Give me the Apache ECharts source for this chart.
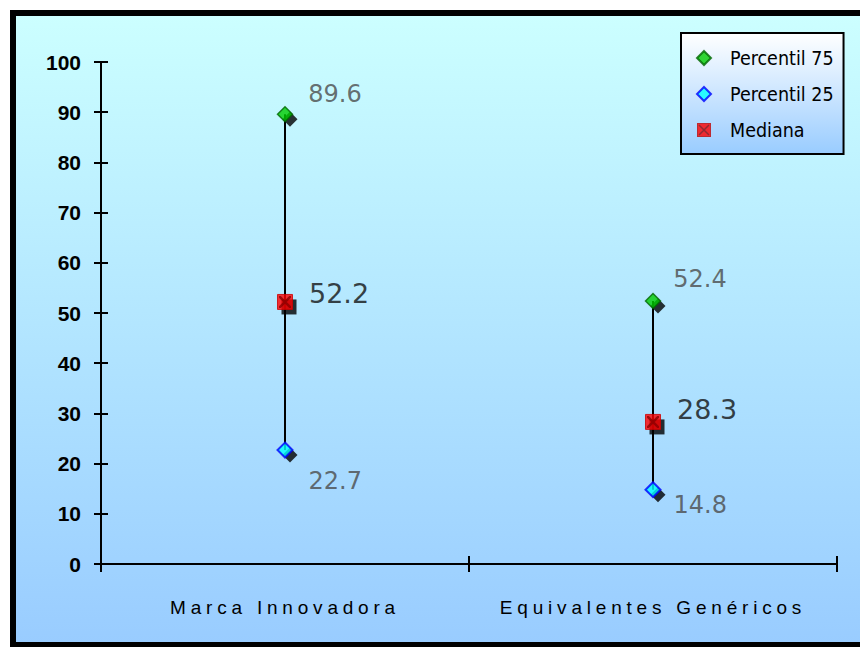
<!DOCTYPE html>
<html>
<head>
<meta charset="utf-8">
<script src="https://cdn.jsdelivr.net/npm/echarts@6/dist/echarts.min.js"></script>
<style>
  html, body { margin: 0; padding: 0; background: #fff; }
  #chart { width: 860px; height: 647px; }
  /* spaced-out category captions */
  #chart text[style*="Liberation Sans"], #chart text[font-family*="Liberation Sans"] { letter-spacing: 4.8px; }
</style>
</head>
<body>
<div id="chart"></div>
<script>
// Data
const categories = ['Marca Innovadora', 'Equivalentes Genéricos'];
const p75 = [89.6, 52.4];
const p25 = [22.7, 14.8];
const median = [52.2, 28.3];
const yTicks = { min: 0, max: 100, step: 10 };

// Label placement (pixel offsets from the marker)
const p75Offsets = [[15, -20], [12, -22]];
const p25Offsets = [[15, 31], [12, 15]];
const medOffsets = [[16, -8], [16, -12]];

const chart = echarts.init(document.getElementById('chart'), null, { renderer: 'svg' });

const valueFont = "'DejaVu Sans', sans-serif";
const crossPath = 'path://M0,0L3,0L10,7L17,0L20,0L20,3L13,10L20,17L20,20L17,20L10,13L3,20L0,20L0,17L7,10L0,3Z';
const medianIconSvg = "<svg xmlns='http://www.w3.org/2000/svg' width='28' height='28'>" +
  "<rect x='1' y='1' width='26' height='26' fill='#ff0000' stroke='#c00000' stroke-width='2'/>" +
  "<path d='M4 4L24 24M24 4L4 24' stroke='#8b0000' stroke-width='3'/></svg>";
const medianIcon = 'image://data:image/svg+xml;charset=utf-8,' + encodeURIComponent(medianIconSvg);

function pts(values, offsets) {
  return values.map((v, i) => ({
    value: [i, v],
    label: offsets ? { offset: offsets[i] } : undefined
  }));
}

const rangeData = categories.map((c, i) => [i, p25[i], p75[i]]);

const option = {
  animation: false,
  graphic: [{
    type: 'rect',
    z: -100,
    silent: true,
    shape: { x: 13, y: 13, width: 900, height: 632 },
    style: {
      fill: new echarts.graphic.LinearGradient(0, 0, 0, 1, [
        { offset: 0, color: '#CCFFFF' },
        { offset: 1, color: '#99CCFF' }
      ]),
      stroke: '#000',
      lineWidth: 6
    }
  }],
  grid: { left: 101, right: 23, top: 62, bottom: 83 },
  legend: {
    orient: 'vertical',
    left: 681,
    top: 33,
    padding: [14, 10, 13, 15],
    itemWidth: 14,
    itemHeight: 14,
    itemGap: 14,
    backgroundColor: new echarts.graphic.LinearGradient(0, 0, 0, 1, [
      { offset: 0, color: '#FFFFFF' },
      { offset: 1, color: '#99CCFF' }
    ]),
    borderColor: '#000',
    borderWidth: 2,
    borderRadius: 0,
    textStyle: {
      fontFamily: "'DejaVu Sans Condensed', sans-serif",
      fontSize: 19.5,
      lineHeight: 22,
      padding: [0, 0, 0, 14],
      color: '#000'
    },
    data: [
      { name: 'Percentil 75' },
      { name: 'Percentil 25' },
      { name: 'Mediana', icon: medianIcon }
    ]
  },
  xAxis: [{
    type: 'category',
    data: categories,
    position: 'bottom',
    offset: 0,
    boundaryGap: true,
    axisLine: { lineStyle: { color: '#000', width: 2 } },
    axisTick: { show: true, length: 8, lineStyle: { color: '#000', width: 2 } },
    axisLabel: {
      margin: 34,
      color: '#000',
      fontFamily: "'Liberation Sans', Arial, sans-serif",
      fontSize: 19
    },
    splitLine: { show: false }
  }, {
    type: 'category',
    data: categories,
    position: 'bottom',
    offset: 0,
    boundaryGap: true,
    axisLine: { show: false },
    axisTick: { show: true, inside: true, length: 8, lineStyle: { color: '#000', width: 2 } },
    axisLabel: { show: false },
    splitLine: { show: false }
  }],
  yAxis: [{
    type: 'value',
    position: 'left',
    offset: 0,
    min: yTicks.min,
    max: yTicks.max,
    interval: yTicks.step,
    axisLine: { show: true, lineStyle: { color: '#000', width: 2 } },
    axisTick: { show: true, length: 7, lineStyle: { color: '#000', width: 2 } },
    axisLabel: {
      margin: 20,
      color: '#000',
      fontFamily: 'Arial, sans-serif',
      fontWeight: 'bold',
      fontSize: 21
    },
    splitLine: { show: false }
  }, {
    type: 'value',
    position: 'left',
    offset: 0,
    min: yTicks.min,
    max: yTicks.max,
    interval: yTicks.step,
    axisLine: { show: false },
    axisTick: { show: true, inside: true, length: 7, lineStyle: { color: '#000', width: 2 } },
    axisLabel: { show: false },
    splitLine: { show: false }
  }],
  series: [
    {
      // vertical range line between the quartiles
      type: 'custom',
      name: 'rango',
      z: 1,
      data: rangeData,
      encode: { x: 0, y: [1, 2] },
      renderItem(params, api) {
        const lo = api.coord([api.value(0), api.value(1)]);
        const hi = api.coord([api.value(0), api.value(2)]);
        return {
          type: 'line',
          shape: { x1: lo[0], y1: lo[1], x2: hi[0], y2: hi[1] },
          style: { stroke: '#000', lineWidth: 2 }
        };
      }
    },
    // drop shadows
    {
      type: 'scatter', name: 'sombra75', z: 2, silent: true,
      symbol: 'diamond', symbolSize: 15, symbolOffset: [5, 5],
      itemStyle: { color: '#000' }, data: pts(p75)
    },
    {
      type: 'scatter', name: 'sombra25', z: 2, silent: true,
      symbol: 'diamond', symbolSize: 15, symbolOffset: [5, 5],
      itemStyle: { color: '#000' }, data: pts(p25)
    },
    {
      type: 'scatter', name: 'sombraMed', z: 2, silent: true,
      symbol: 'rect', symbolSize: 15, symbolOffset: [4, 5],
      itemStyle: { color: '#000' }, data: pts(median)
    },
    {
      type: 'scatter', name: 'Percentil 75', z: 3,
      symbol: 'diamond', symbolSize: 15,
      itemStyle: { color: '#00CC00', borderColor: '#006600', borderWidth: 1.5 },
      label: {
        show: true, position: 'right', distance: 0,
        formatter: p => p.value[1].toFixed(1),
        fontFamily: valueFont, fontSize: 24, color: '#4a4a4a'
      },
      data: pts(p75, p75Offsets)
    },
    {
      type: 'scatter', name: 'Percentil 25', z: 3,
      symbol: 'diamond', symbolSize: 15,
      itemStyle: { color: '#00FFFF', borderColor: '#0000FF', borderWidth: 2 },
      label: {
        show: true, position: 'right', distance: 0,
        formatter: p => p.value[1].toFixed(1),
        fontFamily: valueFont, fontSize: 24, color: '#4a4a4a'
      },
      data: pts(p25, p25Offsets)
    },
    {
      type: 'scatter', name: 'Mediana', z: 3,
      symbol: 'rect', symbolSize: 15,
      itemStyle: { color: '#FF0000', borderColor: '#CC0000', borderWidth: 1 },
      label: {
        show: true, position: 'right', distance: 0,
        formatter: p => p.value[1].toFixed(1),
        fontFamily: valueFont, fontSize: 27, color: '#111'
      },
      data: pts(median, medOffsets)
    },
    {
      type: 'scatter', name: 'cruz', z: 4, silent: true,
      symbol: crossPath, symbolSize: 12,
      itemStyle: { color: '#8B0000' }, data: pts(median)
    }
  ]
};

chart.setOption(option);
</script>
</body>
</html>
